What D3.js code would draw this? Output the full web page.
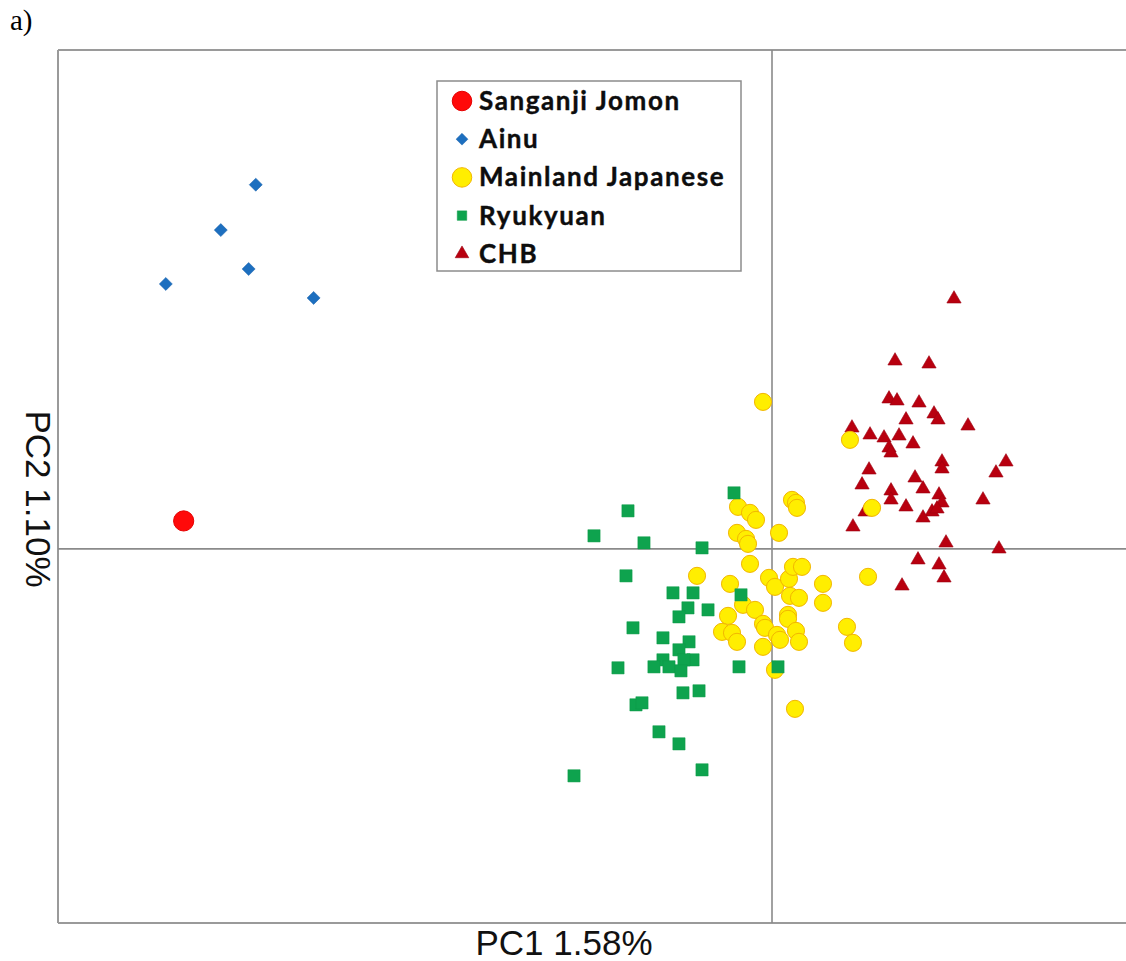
<!DOCTYPE html>
<html>
<head>
<meta charset="utf-8">
<script src="https://cdn.jsdelivr.net/npm/d3@7"></script>
<style>
  html, body { margin: 0; padding: 0; background: #fff; }
  svg { display: block; }
</style>
</head>
<body>
<svg id="chart" width="1126" height="961"></svg>
<script>
// ---- Data (PC1, PC2 scores, arbitrary units) ----
const seriesNames = ["Sanganji Jomon", "Ainu", "Mainland Japanese", "Ryukyuan", "CHB"];
const xLabel = "PC1 1.58%";
const yLabel = "PC2 1.10%";
const panelLabel = "a)";

const jomonPC1 = [-82.4];
const jomonPC2 = [5.6];

const ainuPC1 = [-72.3, -77.2, -73.3, -84.9, -64.2];
const ainuPC2 = [73.0, 63.9, 56.1, 53.1, 50.3];

const mainlandPC1 = [-1.26, 10.92, 14.01, 2.80, 3.36, 3.50, -4.76, -3.08, -2.24, -4.90,
  -3.64, -3.36, 0.98, -3.08, -10.50, -5.88, -0.42, 0.42, 2.38, 2.94,
  4.20, 7.14, 13.45, 2.52, 3.78, 7.14, -4.06, -2.38, -6.16, 2.24,
  2.24, -1.26, -0.98, -7.00, -5.60, -4.90, 0.70, 1.12, 3.36, 3.78,
  10.50, 11.34, -1.26, 0.42, 3.22];
const mainlandPC2 = [29.46, 21.85, 8.22, 9.82, 9.22, 8.22, 8.42, 7.22, 5.81, 3.21,
  2.00, 1.00, 3.21, -3.01, -5.41, -7.02, -5.81, -7.62, -6.01, -3.61,
  -3.61, -7.02, -5.61, -9.42, -9.82, -10.82, -11.22, -12.23, -13.43, -13.23,
  -14.03, -15.03, -15.83, -16.64, -16.84, -18.64, -17.24, -18.24, -16.44, -18.64,
  -15.63, -18.84, -19.64, -24.25, -32.07];

const ryukyuanPC1 = [-5.32, -20.17, -24.93, -17.93, -9.80, -20.45, -13.87, -11.06, -11.77, -8.96,
  -13.03, -4.34, -19.47, -15.27, -11.62, -13.03, -15.27, -11.06, -12.33, -16.53,
  -14.43, -12.75, -21.57, -4.62, 0.84, -12.47, -10.22, -19.05, -18.21, -15.83,
  -13.03, -9.80, -27.73];
const ryukyuanPC2 = [11.22, 7.62, 2.61, 1.20, 0.20, -5.41, -8.82, -8.82, -11.83, -12.23,
  -13.63, -9.22, -15.83, -17.84, -18.64, -20.24, -22.25, -22.25, -22.25, -23.65,
  -23.65, -24.45, -23.85, -23.65, -23.65, -28.86, -28.46, -31.27, -30.87, -36.68,
  -39.09, -44.30, -45.50];

const chbPC1 = [25.49, 17.23, 21.99, 16.39, 17.51, 20.59, 22.69, 23.25, 18.77, 27.45,
  11.20, 13.73, 15.69, 17.79, 19.75, 16.39, 16.67, 13.59, 23.81, 23.81,
  32.77, 31.37, 12.61, 20.03, 21.15, 16.67, 16.67, 23.39, 23.81, 18.77,
  22.41, 23.11, 13.03, 21.15, 29.55, 11.34, 24.37, 31.79, 20.45, 23.39,
  24.09, 18.21];
const chbPC2 = [50.11, 37.68, 37.08, 30.07, 29.67, 29.26, 27.06, 25.86, 25.86, 24.65,
  24.25, 22.85, 22.25, 22.65, 21.05, 20.24, 19.24, 15.83, 17.44, 16.04,
  17.44, 15.23, 12.83, 14.23, 12.03, 11.63, 9.82, 10.82, 9.22, 8.42,
  7.42, 8.02, 7.42, 6.21, 9.82, 4.41, 1.20, 0.00, -2.20, -3.21,
  -5.81, -7.42];

const xDomain = [-100, 50];
const yDomain = [-75, 100];

// ---- Layout ----
const svg = d3.select("#chart");
const plot = { left: 58, right: 1129, top: 50, bottom: 923 };

const x = d3.scaleLinear().domain(xDomain).range([plot.left, plot.right]);
const y = d3.scaleLinear().domain(yDomain).range([plot.bottom, plot.top]);

const zip = (a, b) => a.map((v, i) => [v, b[i]]);

// Frame (left, top, bottom) drawn with the scales
const frameColor = "#9a9a9a";
const frame = svg.append("g");
frame.append("line")
  .attr("x1", x(xDomain[0])).attr("x2", x(xDomain[0]))
  .attr("y1", y(yDomain[1])).attr("y2", y(yDomain[0]))
  .attr("stroke", frameColor).attr("stroke-width", 2);
frame.append("line")
  .attr("x1", x(xDomain[0])).attr("x2", x(xDomain[1]))
  .attr("y1", y(yDomain[1])).attr("y2", y(yDomain[1]))
  .attr("stroke", frameColor).attr("stroke-width", 2);
frame.append("line")
  .attr("x1", x(xDomain[0])).attr("x2", x(xDomain[1]))
  .attr("y1", y(yDomain[0])).attr("y2", y(yDomain[0]))
  .attr("stroke", frameColor).attr("stroke-width", 2);

// Zero crosshair
const cross = svg.append("g");
cross.append("line")
  .attr("x1", x(0)).attr("x2", x(0))
  .attr("y1", y(yDomain[1])).attr("y2", y(yDomain[0]))
  .attr("stroke", "#8a8a8a").attr("stroke-width", 1.6);
cross.append("line")
  .attr("x1", x(xDomain[0])).attr("x2", x(xDomain[1]))
  .attr("y1", y(0)).attr("y2", y(0))
  .attr("stroke", "#8a8a8a").attr("stroke-width", 1.6);

// Marker styles
const styles = {
  "Sanganji Jomon":   { type: d3.symbolCircle,   size: 320, fill: "#ff0a0a", stroke: "#e60000", sw: 1, rot: 0 },
  "Ainu":             { type: d3.symbolSquare,   size: 85,  fill: "#1d6fbf", stroke: "#1b63ad", sw: 0.5, rot: 45 },
  "Mainland Japanese":{ type: d3.symbolCircle,   size: 230, fill: "#ffee00", stroke: "#f2b600", sw: 1, rot: 0 },
  "Ryukyuan":         { type: d3.symbolSquare,   size: 150, fill: "#0ea34e", stroke: "#0e9a48", sw: 0.5, rot: 0 },
  "CHB":              { type: d3.symbolTriangle, size: 88,  fill: "#b8000f", stroke: "#9c0010", sw: 0.6, rot: 0 }
};

function drawSeries(name, data) {
  const s = styles[name];
  const sym = d3.symbol().type(s.type).size(s.size);
  svg.append("g").attr("class", "series")
    .selectAll("path").data(data).join("path")
    .attr("d", sym)
    .attr("transform", d => `translate(${x(d[0])},${y(d[1])}) rotate(${s.rot})`)
    .attr("fill", s.fill)
    .attr("stroke", s.stroke)
    .attr("stroke-width", s.sw);
}

drawSeries("CHB", zip(chbPC1, chbPC2));
drawSeries("Mainland Japanese", zip(mainlandPC1, mainlandPC2));
drawSeries("Ryukyuan", zip(ryukyuanPC1, ryukyuanPC2));
drawSeries("Ainu", zip(ainuPC1, ainuPC2));
drawSeries("Sanganji Jomon", zip(jomonPC1, jomonPC2));

// Legend
const legend = svg.append("g").attr("transform", "translate(437,81)");
legend.append("rect")
  .attr("x", 0).attr("y", 0).attr("width", 304).attr("height", 190)
  .attr("fill", "#fff").attr("stroke", "#8c8c8c").attr("stroke-width", 1.5);
const legendSizes = { "Sanganji Jomon": 300, "Ainu": 70, "Mainland Japanese": 300, "Ryukyuan": 90, "CHB": 80 };
seriesNames.forEach((name, i) => {
  const s = styles[name];
  const cy = 20 + i * 38.2;
  legend.append("path")
    .attr("d", d3.symbol().type(s.type).size(legendSizes[name]))
    .attr("transform", `translate(25,${cy}) rotate(${s.rot})`)
    .attr("fill", s.fill).attr("stroke", s.stroke).attr("stroke-width", s.sw);
  legend.append("text")
    .attr("x", 42).attr("y", cy + 9)
    .attr("font-family", "Lato, 'Open Sans', sans-serif")
    .attr("font-weight", "bold")
    .attr("font-size", 26)
    .attr("letter-spacing", 1.6)
    .attr("fill", "#0d0d0d")
    .attr("stroke", "#0d0d0d")
    .attr("stroke-width", 0.4)
    .text(name);
});

// Axis titles
svg.append("text")
  .attr("x", (x(xDomain[0]) + x(0)) / 2 + 149)
  .attr("y", 955)
  .attr("text-anchor", "middle")
  .attr("font-family", "'Liberation Sans', Arial, sans-serif")
  .attr("font-size", 35)
  .attr("fill", "#111")
  .text(xLabel);

svg.append("text")
  .attr("transform", `translate(26,499) rotate(90)`)
  .attr("text-anchor", "middle")
  .attr("font-family", "'Liberation Sans', Arial, sans-serif")
  .attr("font-size", 35)
  .attr("fill", "#111")
  .text(yLabel);

// Panel label
svg.append("text")
  .attr("x", 10).attr("y", 30)
  .attr("font-family", "'Liberation Serif', 'Times New Roman', serif")
  .attr("font-size", 29)
  .attr("fill", "#000")
  .text(panelLabel);
</script>
</body>
</html>
